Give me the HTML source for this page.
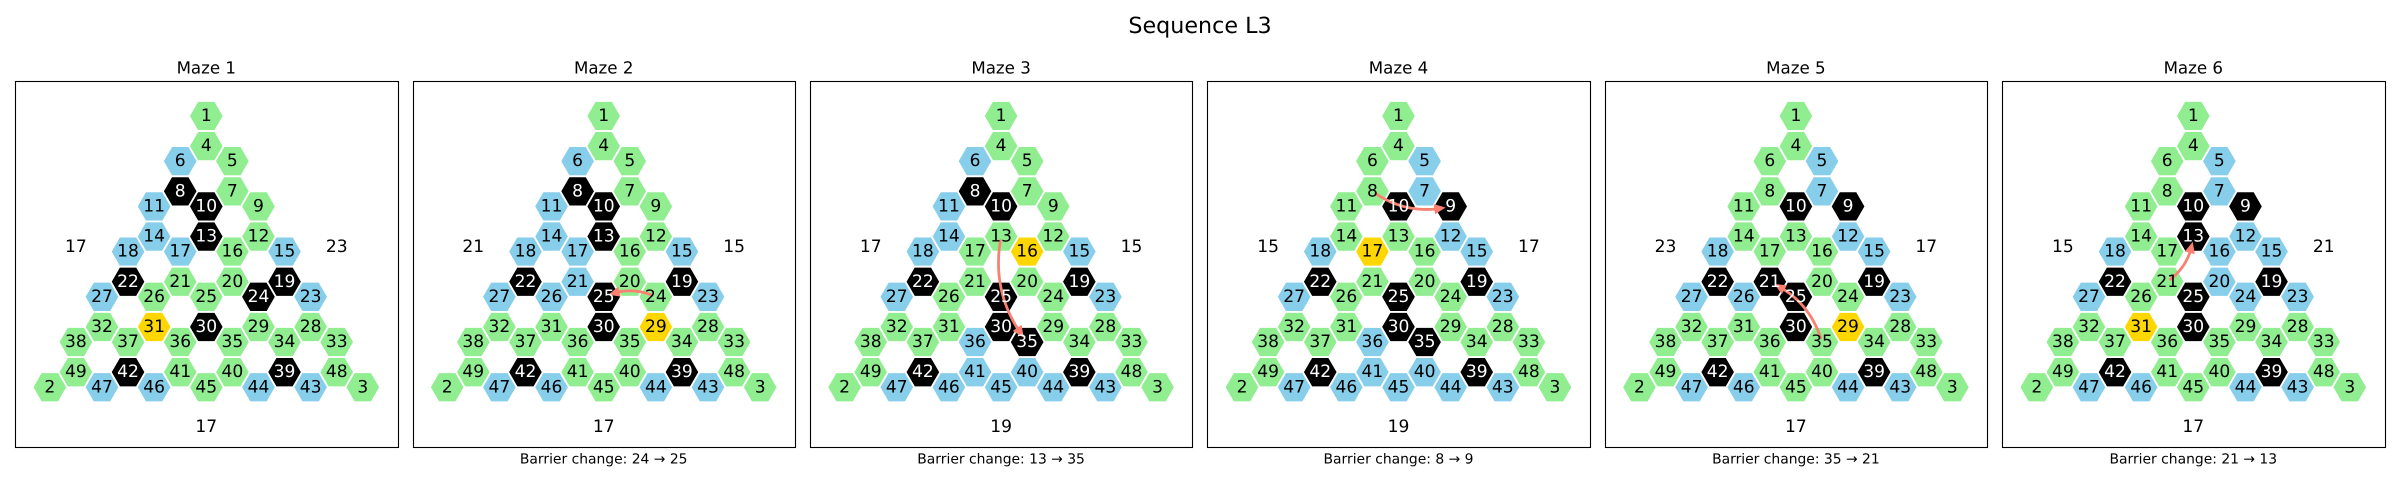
<!DOCTYPE html>
<html lang="en">
<head>
<meta charset="utf-8">
<title>Sequence L3</title>
<style>
html,body{margin:0;padding:0;background:#fff;width:2400px;height:480px;overflow:hidden}
svg{display:block}
text{font-family:"DejaVu Sans","Liberation Sans",sans-serif;text-rendering:geometricPrecision}
</style>
</head>
<body>
<svg id="chart" xmlns="http://www.w3.org/2000/svg" width="2400" height="480" viewBox="0 0 2400 480">
<text x="1200" y="33" text-anchor="middle" font-size="22.22" fill="#000">Sequence L3</text>
</svg>
<script>
// Maze graph: node ids with grid column and row (logical lattice units)
const nodeIds  = [1,4,6,5,8,7,11,10,9,14,13,12,18,17,16,15,22,21,20,19,27,26,25,24,23,32,31,30,29,28,38,37,36,35,34,33,49,42,41,40,39,48,2,47,46,45,44,43,3];
const nodeCols = [0,0,-1,1,-1,1,-2,0,2,-2,0,2,-3,-1,1,3,-3,-1,1,3,-4,-2,0,2,4,-4,-2,0,2,4,-5,-3,-1,1,3,5,-5,-3,-1,1,3,5,-6,-4,-2,0,2,4,6];
const nodeRows = [0,2,3,3,5,5,6,6,6,8,8,8,9,9,9,9,11,11,11,11,12,12,12,12,12,14,14,14,14,14,15,15,15,15,15,15,17,17,17,17,17,17,18,18,18,18,18,18,18];

// Per-maze states
const mazeTitles = ["Maze 1","Maze 2","Maze 3","Maze 4","Maze 5","Maze 6"];
const blackNodes = [
  [8,10,13,22,19,24,30,42,39],
  [8,10,13,22,19,25,30,42,39],
  [8,10,25,22,19,30,35,42,39],
  [10,9,22,19,25,30,35,42,39],
  [10,9,22,21,25,19,30,42,39],
  [10,9,13,22,25,19,30,42,39]
];
const blueNodes = [
  [6,11,14,18,17,15,27,23,47,46,44,43],
  [6,11,14,18,17,15,21,26,27,23,47,46,44,43],
  [6,11,14,18,15,27,23,36,41,40,45,44,46,47,43],
  [5,7,12,18,15,27,23,36,41,40,45,44,46,47,43],
  [5,7,12,18,15,27,26,23,47,46,44,43],
  [5,7,12,16,15,18,20,24,27,23,47,46,44,43]
];
const goalNodes   = [31,29,16,17,29,31];
const leftValues  = [17,21,17,15,23,15];
const rightValues = [23,15,15,17,17,21];
const bottomValues= [17,17,19,19,17,17];
const changeFrom  = [null,24,13,8,35,21];
const changeTo    = [null,25,35,9,21,13];

// Axis functions
const PANEL_LEFT = 15.25, PANEL_STEP = 397.4, PANEL_W = 382.3;
const TOP = 81.5, BOTTOM = 447.5;
const ROW0 = 116, ROW_H = 15.07, COL_W = 26.08;
const HEX_R = COL_W / 1.5;
const NUM_FONT = 17.1;
function panelLeft(i){ return PANEL_LEFT + PANEL_STEP * i; }
function xOf(i, col){ return panelLeft(i) + 191.05 + col * COL_W; }
function yOf(row){ return ROW0 + row * ROW_H; }

const NS = "http://www.w3.org/2000/svg";
const svg = document.getElementById("chart");
function make(tag, attrs, parent){
  const el = document.createElementNS(NS, tag);
  for (const k in attrs) el.setAttribute(k, attrs[k]);
  parent.appendChild(el);
  return el;
}
function nodeIndex(id){ return nodeIds.indexOf(id); }

function drawArrow(g, i, fromId, toId){
  const a = nodeIndex(fromId), b = nodeIndex(toId);
  const x0 = xOf(i, nodeCols[a]), y0 = yOf(nodeRows[a]);
  const x1 = xOf(i, nodeCols[b]), y1 = yOf(nodeRows[b]);
  const rad = 0.23, dx = x1 - x0, dy = y1 - y0;
  const cx = (x0 + x1) / 2 - rad * dy, cy = (y0 + y1) / 2 + rad * dx;
  const pt = t => [
    (1-t)*(1-t)*x0 + 2*(1-t)*t*cx + t*t*x1,
    (1-t)*(1-t)*y0 + 2*(1-t)*t*cy + t*t*y1
  ];
  const N = 200, pts = [];
  for (let k = 0; k <= N; k++) pts.push(pt(k / N));
  const dist = (p, x, y) => Math.hypot(p[0]-x, p[1]-y);
  let s = 0; while (dist(pts[s], x0, y0) < 4) s++;
  let e = N; while (dist(pts[e], x1, y1) < 6) e--;
  const tip = pts[e];
  let base = e; while (dist(pts[base], tip[0], tip[1]) < 10) base--;
  const bp = pts[base];
  let d = "M" + pts[s][0].toFixed(2) + " " + pts[s][1].toFixed(2);
  for (let k = s + 1; k <= base; k++) d += "L" + pts[k][0].toFixed(2) + " " + pts[k][1].toFixed(2);
  const shaft = make("path", {d: d, fill: "none", stroke: "#FA8072", "stroke-width": 2.8, "stroke-linecap": "round"}, g);
  
  
  const ux = (tip[0]-bp[0]) / 10, uy = (tip[1]-bp[1]) / 10, hw = 4.5;
  const headPts = [
    tip[0].toFixed(2) + "," + tip[1].toFixed(2),
    (bp[0]-uy*hw).toFixed(2) + "," + (bp[1]+ux*hw).toFixed(2),
    (bp[0]+uy*hw).toFixed(2) + "," + (bp[1]-ux*hw).toFixed(2)
  ].join(" ");
  const head = make("polygon", {points: headPts, fill: "#FA8072", stroke: "#FA8072", "stroke-width": 0.8}, g);
  
  
}

mazeTitles.forEach((title, i) => {
  const panel = make("g", {}, svg);
  
  

  const L = Math.round(panelLeft(i)) + 0.5, R = Math.round(panelLeft(i) + PANEL_W) + 0.5;
  const frame = make("rect", {x: L, y: TOP, width: R - L, height: BOTTOM - TOP, fill: "#fff", stroke: "#000", "stroke-width": 1.1}, panel);
  
  

  const cx = xOf(i, 0);
  const t = make("text", {x: cx, y: 73.3, "text-anchor": "middle", "font-size": 16.67, fill: "#000"}, panel);
  t.textContent = title;
  
  

  const hexes = make("g", {}, panel);
  
  
  const arrows = make("g", {}, panel);
  
  
  const labels = make("g", {}, panel);
  
  

  nodeIds.forEach((id, n) => {
    const x = xOf(i, nodeCols[n]), y = yOf(nodeRows[n]);
    const isBlack = blackNodes[i].includes(id);
    let fill = "#90EE90";
    if (isBlack) fill = "#000000";
    else if (id === goalNodes[i]) fill = "#FFD700";
    else if (blueNodes[i].includes(id)) fill = "#87CEEB";
    const corners = [];
    for (let k = 0; k < 6; k++) {
      const ang = Math.PI / 3 * k;
      corners.push((x + HEX_R * Math.cos(ang)).toFixed(2) + "," + (y + HEX_R * Math.sin(ang)).toFixed(2));
    }
    const hex = make("polygon", {points: corners.join(" "), fill: fill, stroke: "#fff", "stroke-width": 1.8}, hexes);
    
    
    const lab = make("text", {x: x, y: y + 5, "text-anchor": "middle", "font-size": NUM_FONT, fill: isBlack ? "#fff" : "#000"}, labels);
    lab.textContent = id;
    
    
  });

  if (changeFrom[i] !== null) {
    drawArrow(arrows, i, changeFrom[i], changeTo[i]);
    const cap = make("text", {x: cx, y: 463.3, "text-anchor": "middle", "font-size": 13.89, fill: "#000"}, panel);
    cap.textContent = "Barrier change: " + changeFrom[i] + " \u2192 " + changeTo[i];
    
    
  }

  const left = make("text", {x: xOf(i, -5), y: 252, "text-anchor": "middle", "font-size": NUM_FONT, fill: "#000"}, panel);
  left.textContent = leftValues[i];
  
  
  const right = make("text", {x: xOf(i, 5), y: 252, "text-anchor": "middle", "font-size": NUM_FONT, fill: "#000"}, panel);
  right.textContent = rightValues[i];
  
  
  const bottom = make("text", {x: cx, y: 432, "text-anchor": "middle", "font-size": NUM_FONT, fill: "#000"}, panel);
  bottom.textContent = bottomValues[i];
  
  
});
</script>
</body>
</html>
